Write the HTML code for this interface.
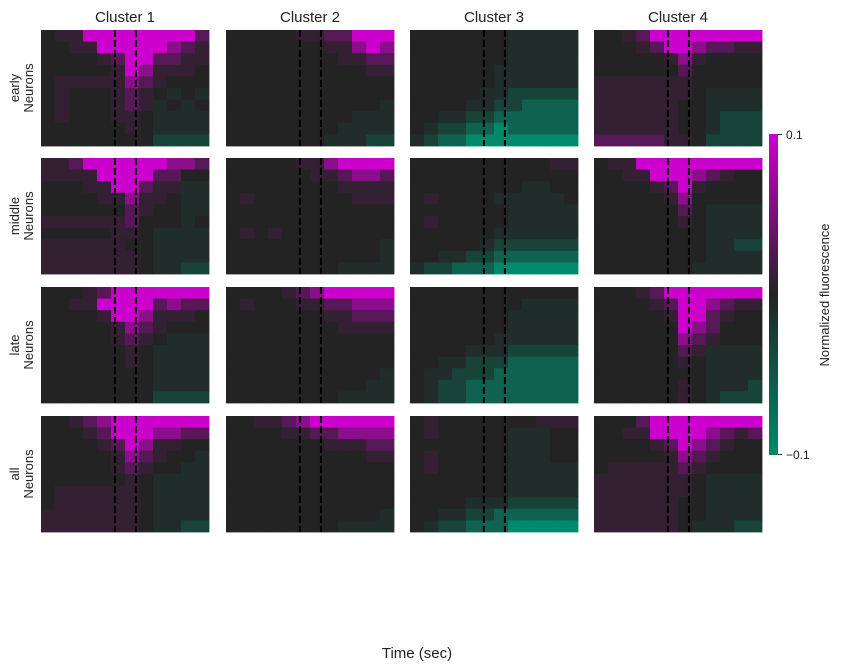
<!DOCTYPE html>
<html><head><meta charset="utf-8">
<style>
body{margin:0;background:#fff;width:842px;height:671px;overflow:hidden;font-family:"Liberation Sans",sans-serif;}
svg{display:block}
</style></head>
<body>
<svg id="fig" width="842" height="671" xmlns="http://www.w3.org/2000/svg">
<defs><linearGradient id="cb" x1="0" y1="1" x2="0" y2="0">
<stop offset="0" stop-color="#008a6a"/><stop offset="0.5" stop-color="#232323"/><stop offset="1" stop-color="#cc00cc"/></linearGradient></defs>
<g id="panels"></g>
<g>
<rect x="769" y="134" width="9" height="321" fill="url(#cb)"/>
<line x1="778" y1="134.5" x2="782" y2="134.5" stroke="#333"/>
<line x1="778" y1="454.5" x2="782" y2="454.5" stroke="#333"/>
<text x="786" y="139" font-size="12" fill="#222">0.1</text>
<text x="786" y="459" font-size="12" fill="#222">−0.1</text>
<text transform="translate(829,295) rotate(-90)" text-anchor="middle" font-size="13" fill="#222">Normalized fluorescence</text>
</g>
<text x="417" y="658" text-anchor="middle" font-size="15" fill="#222">Time (sec)</text>
</svg>
<script>
const clusters=["Cluster 1","Cluster 2","Cluster 3","Cluster 4"];
const groups=["early","middle","late","all"];
const eventMarks=[0.44,0.565];
const early=[
["455888888886","445588888765","444456886655","444445875554","455555765444","454445654343","454445653434","454445543333","444444543333","444444442222"],
["444445566888","444444455787","444444445566","444444444455","444444444444","444444444444","444444444443","444444444333","444444443333","444444433322"],
["444444433333","444444433333","444444433333","444444333333","444444333333","444443322222","444433221111","443322111111","432211011111","321100000000"],
["445688888888","444568876655","444445754444","444444644444","555555544444","555555543333","555555443333","555555443222","555555443222","666665542222"]];
const middle=[
["556888888776","555588886644","444558865533","444455755433","444444654433","555555644434","444445543333","555555443333","555555543333","555555543322"],
["444445578888","444444556776","444444445555","454444444555","444444444444","444444444444","454544444444","444444444443","444444444443","444444443333"],
["444444444455","444444444444","444444443344","454444333334","444444433333","454444433333","444444333333","444443222222","443322111111","322111000000"],
["455888888888","445588876544","444456854444","444445744444","444444643333","444444543333","444444443333","444444443322","444444443333","444444433333"]];
const late=[
["444568888888","445588886766","444458875554","444445765444","444445654333","444444543333","444444543333","444444443333","444444443333","444444442222"],
["444456788888","454445566777","444444455666","444444445555","444444444444","444444444444","444444444444","444444444443","444444444433","444444443333"],
["444444444444","444444443333","444444433333","444444433333","444444333333","444433322222","443322211111","433222111111","432211111111","432211111111"],
["444568888888","444456887655","444445886544","444444876444","444444765444","444444653333","444444543333","444444443333","444444543332","444444543222"]];
const allN=[
["445678888888","444568887766","444456875544","444445765443","444445654433","444444543333","455555543333","455555543333","555555543333","555555543322"],
["445567888888","444455667777","444444455566","444444444455","444444444444","444444444444","444444444444","444444444444","444444444443","444444443333"],
["454444444555","454444433344","444444433344","454444433344","454444433333","444444433333","444444433333","444433322222","443322111111","432211100000"],
["444688888888","445588887656","444456876544","444445765444","455555654444","555555543333","555555543333","555555443333","555555443333","555555433322"]];
const grid=[early,middle,late,allN];
const colX=[41,226,410,594], rowY=[30,158,287,416], PW=168, PH=116;
const NS="http://www.w3.org/2000/svg";
function mix(a,b,t){return a.map((v,i)=>Math.round(v+(b[i]-v)*t));}
function color(v){const d=[35,35,35],m=[204,0,204],g=[0,138,106];const t=(v-4)/4;
 const s=Math.pow(Math.abs(t),1.7);
 const c=t>=0?mix(d,m,s):mix(d,g,s);return `rgb(${c[0]},${c[1]},${c[2]})`;}
function el(tag,attrs){const e=document.createElementNS(NS,tag);for(const k in attrs)e.setAttribute(k,attrs[k]);return e;}
const root=document.getElementById('panels');
clusters.forEach((c,ci)=>{
 const t=el('text',{x:colX[ci]+PW/2,y:22,'text-anchor':'middle','font-size':15,fill:'#222'});
 
 
 t.textContent=c;root.appendChild(t);
});
groups.forEach((gname,ri)=>{
 const lab=el('text',{transform:`translate(32,${rowY[ri]+PH/2}) rotate(-90)`,'text-anchor':'middle','font-size':13,fill:'#222'});
 
 
 const t1=el('tspan',{x:0,dy:-13});t1.textContent=gname;
 const t2=el('tspan',{x:0,dy:14});t2.textContent='Neurons';
 lab.appendChild(t1);lab.appendChild(t2);root.appendChild(lab);
 clusters.forEach((c,ci)=>{
  const data=grid[ri][ci];
  const g=el('g',{});
  
  
  const nr=data.length,nc=data[0].length;
  const cw=PW/nc,ch=PH/nr;
  data.forEach((row,r)=>{for(let k=0;k<nc;k++){
   const rc=el('rect',{x:colX[ci]+k*cw,y:rowY[ri]+r*ch,width:cw+0.4,height:ch+0.4,fill:color(+row[k])});
   
   
   g.appendChild(rc);}});
  eventMarks.forEach(f=>{
   const x=colX[ci]+f*PW;
   const ln=el('line',{x1:x,x2:x,y1:rowY[ri],y2:rowY[ri]+PH,stroke:'#000','stroke-width':2,'stroke-dasharray':'7,3'});
   
   
   g.appendChild(ln);});
  root.appendChild(g);
 });
});
</script>
</body></html>
